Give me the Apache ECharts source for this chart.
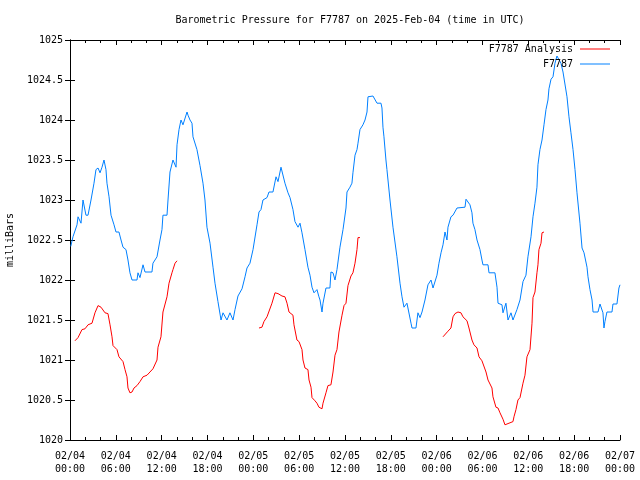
<!DOCTYPE html>
<html>
<head>
<meta charset="utf-8">
<script src="https://cdn.jsdelivr.net/npm/echarts@6/dist/echarts.min.js"></script>
<style>html,body{margin:0;padding:0;background:#fff}#c{width:640px;height:480px}</style>
</head>
<body>
<div id="c"></div>
<script>
// hours since 2025-02-04 00:00 UTC
const xTickLabels = ['02/04\n00:00','02/04\n06:00','02/04\n12:00','02/04\n18:00','02/05\n00:00','02/05\n06:00','02/05\n12:00','02/05\n18:00','02/06\n00:00','02/06\n06:00','02/06\n12:00','02/06\n18:00','02/07\n00:00'];
const seriesNames = ['F7787 Analysis', 'F7787'];

const stationHours = [0.1,0.39,0.92,1.05,1.44,1.70,1.83,2.09,2.36,2.75,3.01,3.14,3.40,3.67,3.93,4.19,4.45,4.71,4.84,5.11,5.37,5.63,5.76,6.02,6.41,6.68,6.94,7.33,7.59,7.85,8.12,8.77,8.90,9.16,9.56,9.82,10.73,10.86,11.39,11.78,12.04,12.17,12.70,12.83,13.09,13.48,13.88,14.01,14.27,14.53,14.79,15.32,15.45,15.71,15.97,16.10,16.62,17.02,17.41,17.67,17.93,18.33,18.72,18.98,19.37,19.77,20.03,20.55,20.94,21.34,21.60,21.99,22.52,22.91,23.17,23.56,23.96,24.48,24.74,25.00,25.26,25.79,26.05,26.57,26.97,27.23,27.62,27.88,28.14,28.54,28.80,29.19,29.45,29.85,30.11,30.37,30.76,31.15,31.42,31.68,31.94,32.33,32.59,32.73,32.99,33.12,33.51,34.03,34.16,34.43,34.69,34.95,35.34,35.74,36.13,36.26,36.65,36.91,37.04,37.31,37.57,37.70,37.96,38.35,38.62,38.88,39.01,39.66,39.92,40.19,40.71,40.84,40.97,41.10,41.36,41.49,41.89,42.28,42.80,43.20,43.46,43.72,44.11,44.24,44.64,44.77,45.29,45.55,45.82,46.08,46.47,46.86,47.26,47.52,48.04,48.30,48.57,48.83,49.09,49.35,49.48,49.87,50.14,50.40,50.66,50.92,51.71,51.84,52.10,52.36,52.62,52.75,53.01,53.28,53.67,53.93,54.06,54.72,54.85,55.63,55.90,56.03,56.55,56.68,57.07,57.34,57.73,57.99,58.51,58.91,59.30,59.69,59.95,60.35,60.61,60.87,61.13,61.26,61.52,61.79,62.05,62.31,62.57,62.70,62.97,63.23,63.49,63.75,64.01,64.27,64.54,64.80,65.06,65.32,65.58,65.85,66.11,66.37,66.76,67.03,67.29,67.68,67.81,68.07,68.34,68.47,69.12,69.38,69.64,69.77,69.90,70.03,70.29,70.95,71.08,71.60,71.86,72.0];
const stationValues = [1022.42,1022.54,1022.69,1022.79,1022.71,1023.00,1023.00,1022.81,1022.81,1023.00,1023.01,1023.21,1023.38,1023.40,1023.34,1023.41,1023.50,1023.38,1023.21,1023.04,1022.81,1022.79,1022.69,1022.60,1022.60,1022.50,1022.41,1022.38,1022.25,1022.09,1022.00,1022.00,1022.09,1022.03,1022.19,1022.10,1022.10,1022.21,1022.29,1022.50,1022.63,1022.81,1022.81,1023.00,1023.35,1023.50,1023.41,1023.69,1023.88,1024.00,1023.94,1024.10,1024.06,1024.00,1023.96,1023.79,1023.63,1023.43,1023.21,1023.00,1022.66,1022.46,1022.16,1021.96,1021.73,1021.50,1021.59,1021.50,1021.59,1021.50,1021.63,1021.80,1021.89,1022.04,1022.15,1022.21,1022.38,1022.69,1022.85,1022.88,1023.00,1023.03,1023.10,1023.10,1023.29,1023.23,1023.41,1023.41,1023.21,1023.09,1023.03,1022.88,1022.73,1022.66,1022.71,1022.59,1022.38,1022.16,1022.06,1021.91,1021.84,1021.88,1021.79,1021.75,1021.60,1021.71,1021.90,1021.90,1022.10,1022.09,1022.00,1022.13,1022.41,1022.63,1022.90,1023.10,1023.16,1023.21,1023.34,1023.56,1023.63,1023.71,1023.88,1023.94,1024.00,1024.10,1024.29,1024.30,1024.28,1024.21,1024.21,1024.15,1023.91,1023.79,1023.50,1023.38,1023.00,1022.66,1022.29,1021.96,1021.79,1021.66,1021.71,1021.65,1021.46,1021.40,1021.40,1021.59,1021.53,1021.60,1021.75,1021.94,1022.00,1021.90,1022.06,1022.21,1022.34,1022.44,1022.60,1022.50,1022.66,1022.79,1022.81,1022.81,1022.90,1022.91,1022.91,1023.01,1023.01,1022.94,1022.84,1022.71,1022.63,1022.50,1022.38,1022.25,1022.19,1022.19,1022.09,1022.09,1021.91,1021.71,1021.69,1021.59,1021.71,1021.50,1021.59,1021.50,1021.63,1021.75,1021.98,1022.06,1022.29,1022.54,1022.79,1022.96,1023.16,1023.44,1023.63,1023.75,1023.94,1024.13,1024.25,1024.39,1024.51,1024.54,1024.71,1024.80,1024.80,1024.71,1024.60,1024.59,1024.29,1024.04,1023.84,1023.63,1023.38,1023.09,1022.71,1022.40,1022.34,1022.16,1022.04,1021.88,1021.75,1021.60,1021.60,1021.70,1021.70,1021.59,1021.40,1021.48,1021.60,1021.60,1021.70,1021.70,1021.90,1021.94];

// analysis: three separate runs (null = gap)
const analysisHours = [0.65,1.05,1.57,1.96,2.36,2.88,3.27,3.67,4.06,4.58,4.97,5.24,5.50,5.63,6.15,6.41,6.94,7.20,7.46,7.59,7.85,8.12,8.38,8.77,9.16,9.56,10.08,10.47,10.86,11.39,11.52,11.91,12.17,12.70,12.96,13.35,13.48,13.75,14.01,
  19.0,
  24.74,25.13,25.39,25.79,26.05,26.44,26.84,27.23,27.75,28.14,28.41,28.67,29.19,29.32,29.71,29.98,30.37,30.50,30.76,31.15,31.29,31.55,31.68,32.07,32.33,32.59,32.99,33.12,33.51,33.77,34.16,34.43,34.69,34.95,35.21,35.61,35.87,36.13,36.39,36.78,37.04,37.31,37.57,37.70,37.96,
  43.0,
  48.83,49.09,49.48,49.87,50.14,50.40,50.79,51.18,51.44,51.97,52.23,52.62,52.88,53.28,53.54,53.93,54.19,54.46,54.72,54.98,55.24,55.37,55.76,56.03,56.29,56.68,56.94,57.20,57.47,57.99,58.12,58.38,58.64,58.91,59.17,59.30,59.56,59.82,60.22,60.48,60.61,60.87,61.13,61.26,61.39,61.66,61.79,62.05];
const analysisValues = [1021.24,1021.28,1021.38,1021.39,1021.44,1021.46,1021.59,1021.68,1021.66,1021.59,1021.58,1021.44,1021.29,1021.18,1021.13,1021.04,1020.98,1020.88,1020.79,1020.65,1020.59,1020.60,1020.65,1020.68,1020.73,1020.79,1020.81,1020.85,1020.89,1021.00,1021.16,1021.29,1021.60,1021.79,1021.96,1022.09,1022.13,1022.21,1022.24,
  null,
  1021.40,1021.41,1021.48,1021.54,1021.56,1021.71,1021.84,1021.83,1021.80,1021.79,1021.71,1021.60,1021.56,1021.44,1021.25,1021.23,1021.13,1021.00,1020.90,1020.88,1020.75,1020.66,1020.53,1020.49,1020.46,1020.41,1020.39,1020.46,1020.59,1020.68,1020.69,1020.85,1021.06,1021.13,1021.35,1021.56,1021.68,1021.71,1021.93,1022.05,1022.09,1022.21,1022.38,1022.53,1022.53,
  null,
  1021.29,1021.30,1021.36,1021.40,1021.54,1021.58,1021.60,1021.59,1021.54,1021.49,1021.40,1021.25,1021.19,1021.15,1021.04,1020.99,1020.98,1020.85,1020.75,1020.73,1020.65,1020.54,1020.41,1020.40,1020.34,1020.26,1020.19,1020.20,1020.21,1020.23,1020.29,1020.38,1020.50,1020.53,1020.54,1020.71,1020.81,1021.04,1021.13,1021.46,1021.78,1021.85,1022.09,1022.19,1022.38,1022.46,1022.59,1022.60];

const FONT = 'DejaVu Sans Mono';
const pair = (xs, ys) => xs.map((x, i) => [x, ys[i] === null ? '-' : ys[i]]);

const chart = echarts.init(document.getElementById('c'), null, {renderer: 'canvas'});
const tickStyle = {show: true, inside: true, length: 5, lineStyle: {color: '#000', width: 1}};
const minorStyle = {show: true, splitNumber: 3, length: 3, lineStyle: {color: '#000', width: 1}};
const legendBase = {right: 30, orient: 'vertical', align: 'right', padding: 0,
  icon: 'rect', itemWidth: 30, itemHeight: 1, itemGap: 4,
  textStyle: {fontFamily: FONT, fontSize: 10, color: '#000', padding: [0, 2, 0, 0]}};
chart.setOption({
  animation: false,
  backgroundColor: '#fff',
  title: {
    text: 'Barometric Pressure for F7787 on 2025-Feb-04 (time in UTC)',
    left: 345, top: 10, textAlign: 'center',
    textStyle: {fontFamily: FONT, fontSize: 10, fontWeight: 'normal', color: '#000'}
  },
  legend: [
    Object.assign({}, legendBase, {data: [seriesNames[0]], top: 44}),
    Object.assign({}, legendBase, {data: [seriesNames[1]], top: 59})
  ],
  grid: {left: 70, right: 20, top: 40, bottom: 40, containLabel: false, outerBoundsMode: 'none'},
  xAxis: [
    {type: 'value', min: 0, max: 72, interval: 6, position: 'bottom',
     axisLine: {show: true, lineStyle: {color: '#000', width: 1}},
     axisTick: tickStyle, minorTick: minorStyle, splitLine: {show: false},
     axisLabel: {margin: 10, lineHeight: 13, fontFamily: FONT, fontSize: 10, color: '#000',
       formatter: v => xTickLabels[Math.round(v / 6)]}},
    {type: 'value', min: 0, max: 72, interval: 6, position: 'top',
     axisLine: {show: true, lineStyle: {color: '#000', width: 1}},
     axisTick: tickStyle, minorTick: minorStyle, splitLine: {show: false},
     axisLabel: {show: false}}
  ],
  yAxis: [
    {type: 'value', min: 1020, max: 1025, interval: 0.5, position: 'left',
     name: 'milliBars', nameLocation: 'middle', nameRotate: 90, nameGap: 55,
     nameTextStyle: {fontFamily: FONT, fontSize: 10, color: '#000'},
     axisLine: {show: true, lineStyle: {color: '#000', width: 1}},
     axisTick: tickStyle, splitLine: {show: false},
     axisLabel: {margin: 7, fontFamily: FONT, fontSize: 10, color: '#000', formatter: v => String(v)}},
    {type: 'value', min: 1020, max: 1025, interval: 0.5, position: 'right',
     axisLine: {show: true, lineStyle: {color: '#000', width: 1}},
     axisTick: tickStyle, splitLine: {show: false},
     axisLabel: {show: false}}
  ],
  series: [
    {name: seriesNames[0], type: 'line', data: pair(analysisHours, analysisValues), connectNulls: false,
     symbol: 'none', color: '#ff0000', lineStyle: {color: '#ff0000', width: 1}},
    {name: seriesNames[1], type: 'line', data: pair(stationHours, stationValues),
     symbol: 'none', color: '#0080ff', lineStyle: {color: '#0080ff', width: 1}}
  ]
});
</script>
</body>
</html>
